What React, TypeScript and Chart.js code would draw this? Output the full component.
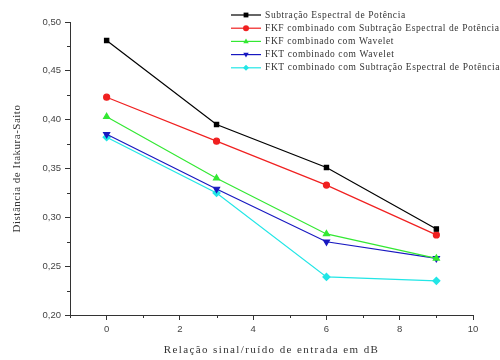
import React, { useEffect, useRef } from "react";
import { Chart, registerables } from "chart.js";

Chart.register(...registerables);

const snr = [0, 3, 6, 9];
const seriesNames = [
  "Subtração Espectral de Potência",
  "FKF combinado com Subtração Espectral de Potência",
  "FKF combinado com Wavelet",
  "FKT combinado com Wavelet",
  "FKT combinado com Subtração Espectral de Potência",
];
const spectral = [0.481, 0.395, 0.351, 0.288];
const fkfSpectral = [0.423, 0.378, 0.333, 0.282];
const fkfWavelet = [0.403, 0.340, 0.283, 0.258];
const fktWavelet = [0.385, 0.329, 0.275, 0.258];
const fktSpectral = [0.382, 0.325, 0.239, 0.235];
const xTicks = [0, 2, 4, 6, 8, 10];
const yTicks = [0.2, 0.25, 0.3, 0.35, 0.4, 0.45, 0.5];
const xTitle = "Relação sinal/ruído de entrada em dB";
const yTitle = "Distância de Itakura-Saito";

const colors = ["#000000", "#f02020", "#33e833", "#1818c0", "#22e6e6"];
const markers = ["rect", "circle", "triangle", "triangle", "rectRot"];
const rotations = [0, 0, 0, 180, 0];
const radii = [3, 3, 3.5, 3.5, 3.5];

function drawMarker(ctx: CanvasRenderingContext2D, kind: number, x: number, y: number, r: number) {
  ctx.beginPath();
  if (kind === 0) {
    ctx.rect(x - r * 0.8, y - r * 0.8, r * 1.6, r * 1.6);
  } else if (kind === 1) {
    ctx.arc(x, y, r, 0, Math.PI * 2);
  } else if (kind === 2) {
    ctx.moveTo(x, y - r);
    ctx.lineTo(x + r * 0.9, y + r * 0.6);
    ctx.lineTo(x - r * 0.9, y + r * 0.6);
    ctx.closePath();
  } else if (kind === 3) {
    ctx.moveTo(x, y + r);
    ctx.lineTo(x + r * 0.9, y - r * 0.6);
    ctx.lineTo(x - r * 0.9, y - r * 0.6);
    ctx.closePath();
  } else {
    ctx.moveTo(x, y - r);
    ctx.lineTo(x + r, y);
    ctx.lineTo(x, y + r);
    ctx.lineTo(x - r, y);
    ctx.closePath();
  }
  ctx.fill();
}

const minorTicksPlugin = {
  id: "minorTicks",
  afterDraw(chart: any) {
    const ctx = chart.ctx;
    const xs = chart.scales.x;
    const ys = chart.scales.y;
    ctx.save();
    ctx.strokeStyle = "#333";
    ctx.lineWidth = 1;
    ctx.beginPath();
    for (let v = -1; v <= 9; v += 2) {
      const px = Math.round(xs.getPixelForValue(v)) + 0.5;
      ctx.moveTo(px, ys.bottom);
      ctx.lineTo(px, ys.bottom + 3);
    }
    for (let i = 0; i < yTicks.length - 1; i++) {
      const v = (yTicks[i] + yTicks[i + 1]) / 2;
      const py = Math.round(ys.getPixelForValue(v)) + 0.5;
      ctx.moveTo(xs.left, py);
      ctx.lineTo(xs.left - 3, py);
    }
    ctx.stroke();

    // axis titles
    ctx.fillStyle = "#333";
    ctx.font = "11px 'Liberation Serif', serif";
    ctx.textAlign = "center";
    ctx.textBaseline = "alphabetic";
    (ctx as any).letterSpacing = "1.4px";
    ctx.fillText(xTitle, (xs.left + xs.right) / 2, 353);
    ctx.save();
    ctx.translate(20, (ys.top + ys.bottom) / 2);
    ctx.rotate(-Math.PI / 2);
    (ctx as any).letterSpacing = "0.5px";
    ctx.fillText(yTitle, 0, 0);
    ctx.restore();
    (ctx as any).letterSpacing = "0px";
    ctx.restore();
  },
};

const legendPlugin = {
  id: "customLegend",
  afterDraw(chart: any) {
    const ctx = chart.ctx;
    ctx.save();
    const x0 = 231;
    const x1 = 261;
    const tx = 265;
    chart.data.datasets.forEach((ds: any, i: number) => {
      const y = 15 + i * 13.2;
      ctx.strokeStyle = ds.borderColor;
      ctx.lineWidth = 1.2;
      ctx.beginPath();
      ctx.moveTo(x0, y);
      ctx.lineTo(x1, y);
      ctx.stroke();
      ctx.fillStyle = ds.borderColor;
      drawMarker(ctx, i, (x0 + x1) / 2, y, 3);
      ctx.fillStyle = "#333";
      ctx.font = "9.5px 'Liberation Serif', serif";
      (ctx as any).letterSpacing = "0.6px";
      ctx.textBaseline = "middle";
      ctx.textAlign = "left";
      ctx.fillText(ds.label, tx, y);
      (ctx as any).letterSpacing = "0px";
    });
    ctx.restore();
  },
};

export default function App() {
  const ref = useRef<HTMLCanvasElement>(null);
  useEffect(() => {
    document.body.style.margin = "0";
    const datasetsData = [spectral, fkfSpectral, fkfWavelet, fktWavelet, fktSpectral];
    const chart = new Chart(ref.current as HTMLCanvasElement, {
      type: "line",
      data: {
        datasets: datasetsData.map((d, i) => ({
          label: seriesNames[i],
          data: d.map((y, j) => ({ x: snr[j], y })),
          borderColor: colors[i],
          backgroundColor: colors[i],
          pointBackgroundColor: colors[i],
          pointBorderColor: colors[i],
          pointStyle: markers[i] as any,
          pointRotation: rotations[i],
          pointRadius: radii[i],
          borderWidth: 1.2,
          tension: 0,
        })),
      },
      options: {
        animation: false,
        responsive: false,
        layout: { padding: { top: 22, right: 27, left: 0, bottom: 0 } },
        plugins: { legend: { display: false }, tooltip: { enabled: false } },
        scales: {
          x: {
            type: "linear",
            min: -1,
            max: 10,
            afterBuildTicks: (s: any) => {
              s.ticks = xTicks.map((v) => ({ value: v }));
            },
            afterFit: (s: any) => {
              s.height = 45;
            },
            border: { display: true, color: "#333", width: 1 },
            grid: { drawOnChartArea: false, drawTicks: true, tickLength: 5, tickColor: "#333" },
            ticks: {
              color: "#444",
              font: { family: "'Liberation Sans', sans-serif", size: 9.5 },
              padding: 4,
              callback: (v: any) => String(v),
            },
            title: { display: false },
          },
          y: {
            type: "linear",
            min: 0.2,
            max: 0.5,
            afterBuildTicks: (s: any) => {
              s.ticks = yTicks.map((v) => ({ value: v }));
            },
            afterFit: (s: any) => {
              s.width = 70;
            },
            border: { display: true, color: "#333", width: 1 },
            grid: { drawOnChartArea: false, drawTicks: true, tickLength: 5, tickColor: "#333" },
            ticks: {
              color: "#444",
              font: { family: "'Liberation Sans', sans-serif", size: 9.5 },
              padding: 4,
              callback: (v: any) => Number(v).toFixed(2).replace(".", ","),
            },
            title: { display: false },
          },
        },
      },
      plugins: [minorTicksPlugin, legendPlugin],
    });
    return () => chart.destroy();
  }, []);
  return (
    <div style={{ width: 500, height: 360, background: "#fff" }}>
      <canvas ref={ref} width={500} height={360} style={{ display: "block" }} />
    </div>
  );
}
